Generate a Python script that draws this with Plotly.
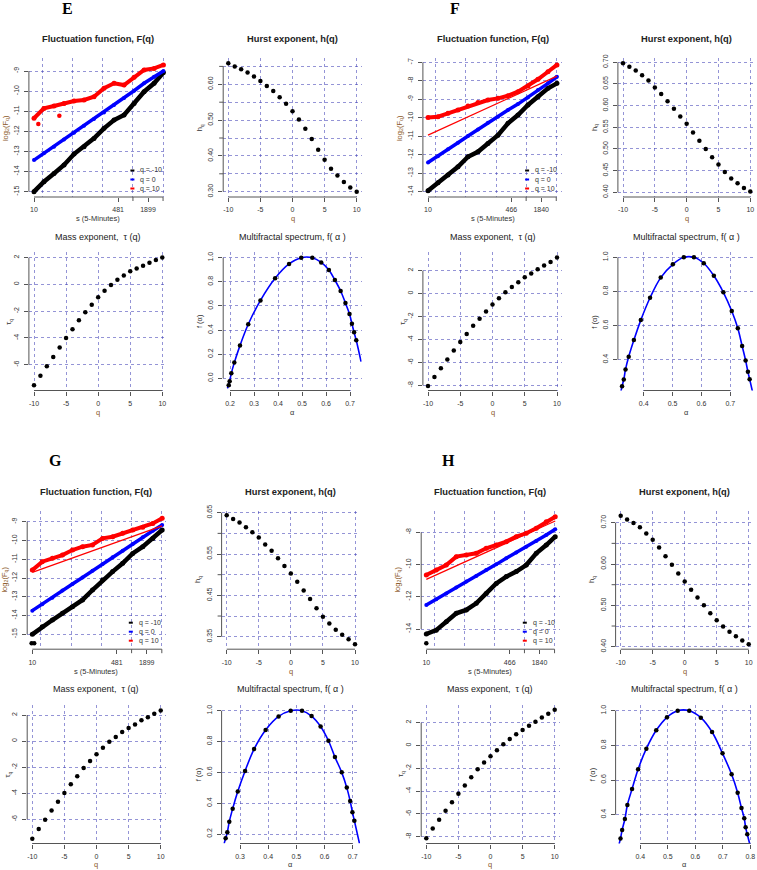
import plotly.graph_objects as go

# ---------------- data ----------------
Q = list(range(-10, 11))

# fluctuation functions: scale s (5-minute units) and log2(Fq)
S_EG = [10, 15.8, 25.1, 39.8, 63.1, 100, 158, 251, 398, 631, 1000, 1585, 2512, 3860]
S_FH = [10, 15.8, 25.1, 39.8, 63.1, 100, 158, 251, 398, 631, 1000, 1585, 2512, 3800]

E_F_neg = [-15.0, -14.50, -14.09, -13.67, -13.13, -12.76, -12.35, -11.85, -11.44, -11.19, -10.61, -10.03, -9.61, -9.08]
E_F_zero = [-13.43, -13.09, -12.76, -12.40, -12.07, -11.72, -11.39, -11.06, -10.69, -10.34, -9.98, -9.61, -9.28, -9.00]
E_F_pos = [-11.35, -10.86, -10.74, -10.61, -10.49, -10.44, -10.28, -9.86, -9.61, -9.70, -9.31, -8.95, -8.87, -8.70]
E_out_s = [12.2, 32.1]
E_out_v = [-11.63, -11.22]

F_F_neg = [-13.95, -13.52, -13.10, -12.65, -12.11, -11.84, -11.39, -10.94, -10.30, -9.85, -9.31, -8.86, -8.41, -8.14]
F_F_zero = [-12.42, -12.08, -11.71, -11.35, -10.99, -10.63, -10.27, -9.94, -9.58, -9.26, -8.90, -8.50, -8.14, -7.78]
F_F_pos = [-9.98, -9.94, -9.76, -9.58, -9.36, -9.18, -9.04, -8.95, -8.81, -8.59, -8.28, -7.92, -7.51, -7.14]
F_fit_s = [10, 3800]
F_fit_pos = [-10.94, -7.75]

G_F_neg = [-15.0, -14.60, -14.24, -13.88, -13.53, -13.17, -12.64, -12.11, -11.66, -11.22, -10.69, -10.33, -9.89, -9.44]
G_F_zero = [-13.74, -13.40, -13.05, -12.67, -12.32, -11.97, -11.61, -11.26, -10.90, -10.55, -10.19, -9.83, -9.48, -9.18]
G_F_pos = [-11.58, -11.13, -10.95, -10.78, -10.51, -10.33, -10.24, -9.89, -9.80, -9.62, -9.44, -9.30, -9.09, -8.82]
G_out_s = [9.7, 10.9]
G_out_v = [-15.48, -15.48]
G_fit_s = [10, 3860]
G_fit_pos = [-11.70, -9.22]

H_F_neg = [-14.31, -14.07, -13.55, -13.03, -12.82, -12.41, -11.79, -11.17, -10.75, -10.44, -10.03, -9.30, -8.79, -8.27]
H_F_zero = [-12.51, -12.16, -11.79, -11.42, -11.06, -10.71, -10.34, -9.99, -9.61, -9.26, -8.89, -8.54, -8.17, -7.81]
H_F_pos = [-10.65, -10.34, -10.03, -9.51, -9.41, -9.30, -8.99, -8.79, -8.58, -8.27, -8.06, -7.75, -7.34, -7.03]
H_out_s = [10]
H_out_v = [-14.89]
H_fit_s = [10, 3800]
H_fit_pos = [-10.92, -7.30]

# Hurst exponents h(q)
E_h = [0.659, 0.650, 0.642, 0.633, 0.622, 0.609, 0.595, 0.581, 0.564, 0.546, 0.525, 0.502, 0.476, 0.447, 0.417, 0.389, 0.364, 0.345, 0.327, 0.312, 0.300]
F_h = [0.698, 0.690, 0.681, 0.670, 0.658, 0.642, 0.627, 0.610, 0.593, 0.575, 0.558, 0.538, 0.519, 0.500, 0.481, 0.464, 0.447, 0.432, 0.421, 0.410, 0.402]
G_h = [0.644, 0.635, 0.626, 0.615, 0.603, 0.590, 0.573, 0.558, 0.540, 0.521, 0.503, 0.483, 0.462, 0.441, 0.419, 0.398, 0.382, 0.367, 0.355, 0.344, 0.332]
H_h = [0.717, 0.708, 0.699, 0.689, 0.674, 0.659, 0.640, 0.619, 0.598, 0.577, 0.558, 0.538, 0.519, 0.500, 0.481, 0.464, 0.449, 0.436, 0.425, 0.415, 0.406]

# mass exponents tau(q)
E_tau = [-7.54, -6.82, -6.12, -5.42, -4.72, -4.00, -3.35, -2.68, -2.08, -1.51, -0.96, -0.47, -0.04, 0.36, 0.66, 0.98, 1.20, 1.40, 1.63, 1.83, 2.02]
F_tau = [-8.06, -7.27, -6.51, -5.75, -4.96, -4.23, -3.53, -2.80, -2.19, -1.55, -0.96, -0.41, 0.12, 0.58, 0.99, 1.43, 1.75, 2.13, 2.45, 2.77, 3.15]
G_tau = [-7.49, -6.75, -6.04, -5.32, -4.65, -3.99, -3.32, -2.69, -2.07, -1.53, -1.02, -0.51, -0.05, 0.31, 0.69, 1.00, 1.28, 1.59, 1.82, 2.10, 2.35]
H_tau = [-8.13, -7.28, -6.52, -5.73, -4.97, -4.24, -3.51, -2.78, -2.08, -1.49, -0.94, -0.41, 0.12, 0.56, 0.99, 1.37, 1.73, 2.08, 2.46, 2.78, 3.13]

# multifractal spectra f(alpha): points and fitted curve
E_alpha = [0.1945, 0.1986, 0.2055, 0.218, 0.2415, 0.276, 0.327, 0.388, 0.446, 0.497, 0.543, 0.580, 0.612, 0.637, 0.661, 0.681, 0.698, 0.708, 0.717, 0.726]
E_f = [-0.058, -0.025, 0.041, 0.130, 0.271, 0.448, 0.646, 0.829, 0.948, 1.0, 1.0, 0.961, 0.898, 0.815, 0.724, 0.624, 0.533, 0.453, 0.381, 0.315]
E_curve_alpha = [0.189] + E_alpha + [0.746]
E_curve_f = [-0.083] + E_f + [0.138]

F_alpha = [0.325, 0.331, 0.337, 0.348, 0.366, 0.390, 0.422, 0.459, 0.501, 0.539, 0.574, 0.608, 0.643, 0.676, 0.705, 0.726, 0.741, 0.753, 0.761, 0.767]
F_f = [0.245, 0.284, 0.343, 0.417, 0.515, 0.632, 0.763, 0.881, 0.959, 1.0, 1.0, 0.965, 0.892, 0.795, 0.685, 0.584, 0.480, 0.396, 0.329, 0.286]
F_curve_alpha = [0.321] + F_alpha + [0.777]
F_curve_f = [0.212] + F_f + [0.212]

G_alpha = [0.249, 0.255, 0.262, 0.274, 0.292, 0.318, 0.350, 0.391, 0.437, 0.480, 0.520, 0.554, 0.586, 0.614, 0.637, 0.661, 0.679, 0.691, 0.699, 0.706]
G_f = [0.172, 0.211, 0.280, 0.364, 0.475, 0.609, 0.751, 0.875, 0.963, 1.0, 1.0, 0.965, 0.898, 0.805, 0.699, 0.600, 0.501, 0.414, 0.341, 0.286]
G_curve_alpha = [0.244] + G_alpha + [0.724]
G_curve_f = [0.139] + G_f + [0.139]

H_alpha = [0.328, 0.334, 0.344, 0.353, 0.370, 0.392, 0.422, 0.458, 0.497, 0.536, 0.578, 0.620, 0.661, 0.699, 0.732, 0.754, 0.768, 0.778, 0.783, 0.789]
H_f = [0.263, 0.312, 0.375, 0.456, 0.548, 0.662, 0.781, 0.887, 0.962, 1.0, 1.0, 0.960, 0.877, 0.754, 0.633, 0.527, 0.438, 0.379, 0.327, 0.287]
H_curve_alpha = [0.323] + H_alpha + [0.798]
H_curve_f = [0.231] + H_f + [0.231]

# tick labels ("" = tick mark without a label)
EG_s_ticks = [10, 481, 950, 1899, 3798]
EG_s_text = ["10", "481", "", "1899", ""]
FH_s_ticks = [10, 466, 920, 1840, 3680]
FH_s_text = ["10", "466", "", "1840", ""]
EG_s_grid = [14.8, 59.3, 237, 950, 3798]
FH_s_grid = [14.4, 57.5, 230, 920, 3680]
Q_ticks = [-10, -5, 0, 5, 10]
LEGEND_LABELS = ["q = -10", "q = 0", "q = 10"]
LEGEND_COLORS = ["#000000", "#0000ff", "#ff0000"]

# ---------------- styling helpers ----------------
W, H = 757, 870
FONT = "Liberation Sans, Arial, sans-serif"
GRIDC = "rgba(60,60,180,0.55)"
AXC = "#555555"
TXT = "#333333"
BROWN = "#8b5a2b"
TICKLEN = 4

fig = go.Figure()
axes = {}
annotations = []
shapes = []
count = [0]


def fx(p):
    return p / W


def fy(p):
    return 1 - p / H


def lin(v1, p1, v2, p2, a):
    return v1 + (a - p1) * (v2 - v1) / (p2 - p1)


def fmt(vals, nd, keep=None):
    return [f"{v:.{nd}f}" if (keep is None or k in keep) else "" for k, v in enumerate(vals)]


def add_panel(box, xcal, ycal, xticks, xtext, yticks, ytext, xgrid, ygrid,
              title, title_y, bold, xtitle, ytitle, xlog=False,
              xtitle_color=TXT, ytitle_color=TXT, xtitle_dy=22, ytitle_dx=23.5):
    count[0] += 1
    i = count[0]
    sx = "" if i == 1 else str(i)
    xr, yr = "x" + sx, "y" + sx
    x0, x1, y0, y1 = box
    (a1, p1), (a2, p2) = xcal
    (b1, q1), (b2, q2) = ycal
    xrange_ = [lin(a1, p1, a2, p2, x0), lin(a1, p1, a2, p2, x1)]
    yrange_ = [lin(b1, q1, b2, q2, y1), lin(b1, q1, b2, q2, y0)]
    xl = [(v, t) for v, t in zip(xticks, xtext) if t != ""]
    yl = [(v, t) for v, t in zip(yticks, ytext) if t != ""]
    common = dict(tickmode="array", ticks="outside", ticklen=TICKLEN, tickwidth=1,
                  tickcolor=AXC, tickfont=dict(size=7, color=TXT, family=FONT),
                  showgrid=False, zeroline=False, showline=False, fixedrange=True)
    axes["xaxis" + sx] = dict(common, domain=[fx(x0), fx(x1)], range=xrange_,
                              anchor=yr, type="log" if xlog else "linear",
                              tickvals=[v for v, _ in xl], ticktext=[t for _, t in xl],
                              tickangle=0, ticklabelstandoff=2,
                              minor=dict(tickmode="array", tickvals=xgrid, showgrid=True,
                                         gridcolor=GRIDC, griddash="dot", gridwidth=1,
                                         ticks=""))
    axes["yaxis" + sx] = dict(common, domain=[fy(y1), fy(y0)], range=yrange_,
                              anchor=xr, tickvals=[v for v, _ in yl], ticktext=[t for _, t in yl],
                              tickangle=-90, ticklabelstandoff=2,
                              minor=dict(tickmode="array", tickvals=ygrid, showgrid=True,
                                         gridcolor=GRIDC, griddash="dot", gridwidth=1,
                                         ticks=""))
    # axis lines only between extreme ticks (R style)
    shapes.append(dict(type="line", xref=xr + " domain", yref=yr, x0=0, x1=0,
                       y0=yticks[0], y1=yticks[-1], line=dict(color=AXC, width=1)))
    shapes.append(dict(type="line", xref=xr, yref=yr + " domain", y0=0, y1=0,
                       x0=xticks[0], x1=xticks[-1], line=dict(color=AXC, width=1)))
    # unlabeled tick marks
    for v, t in zip(xticks, xtext):
        if t == "":
            shapes.append(dict(type="line", xref=xr, yref=yr + " domain", x0=v, x1=v,
                               y0=0, y1=-TICKLEN / (y1 - y0), line=dict(color=AXC, width=1)))
    for v, t in zip(yticks, ytext):
        if t == "":
            shapes.append(dict(type="line", xref=xr + " domain", yref=yr, y0=v, y1=v,
                               x0=0, x1=-TICKLEN / (x1 - x0), line=dict(color=AXC, width=1)))
    cx = (x0 + x1) / 2
    ttl = f"<b>{title}</b>" if bold else title
    annotations.append(dict(text=ttl, x=fx(cx), y=fy(title_y), xref="paper", yref="paper",
                            showarrow=False, xanchor="center", yanchor="middle",
                            font=dict(size=9.3 if bold else 9, color="#222222", family=FONT)))
    annotations.append(dict(text=xtitle, x=fx(cx), y=fy(y1 + xtitle_dy), xref="paper", yref="paper",
                            showarrow=False, xanchor="center", yanchor="middle",
                            font=dict(size=7.5, color=xtitle_color, family=FONT)))
    annotations.append(dict(text=ytitle, x=fx(x0 - ytitle_dx), y=fy((y0 + y1) / 2), xref="paper",
                            yref="paper", showarrow=False, xanchor="center", yanchor="middle",
                            textangle=-90,
                            font=dict(size=7.5, color=ytitle_color, family=FONT)))
    return xr, yr


def add_legend(box):
    x0, x1, y0, y1 = box
    for k, (lab, col) in enumerate(zip(LEGEND_LABELS, LEGEND_COLORS)):
        yy = y1 - 26.5 + 9 * k
        shapes.append(dict(type="line", xref="paper", yref="paper",
                           x0=fx(x1 - 37), x1=fx(x1 - 33), y0=fy(yy), y1=fy(yy),
                           line=dict(color=col, width=2)))
        annotations.append(dict(text=lab, x=fx(x1 - 29), y=fy(yy), xref="paper", yref="paper",
                                showarrow=False, xanchor="left", yanchor="middle",
                                font=dict(size=7, color=TXT, family=FONT)))


def scat(xr, yr, x, y, color, mode="markers", size=4.5, width=1.5, shape="linear"):
    fig.add_trace(go.Scatter(x=x, y=y, xaxis=xr, yaxis=yr, mode=mode,
                             marker=dict(size=size, color=color),
                             line=dict(color=color, width=width, shape=shape),
                             showlegend=False, hoverinfo="skip"))


def fluct_series(xr, yr, s, neg, zero, pos):
    scat(xr, yr, s, neg, "#000000", mode="lines+markers", size=5, width=4.5)
    scat(xr, yr, s, zero, "#0000ff", mode="lines+markers", size=4, width=3.5)
    scat(xr, yr, s, pos, "#ff0000", mode="lines+markers", size=5, width=4)


def spectrum(xr, yr, ca, cf, a, f):
    scat(xr, yr, ca, cf, "#0000ff", mode="lines", width=1.6, shape="spline")
    scat(xr, yr, a, f, "#000000", size=4.5)


ROW_T = [(58.3, 197.0, 39.0), (252.2, 390.5, 236.7), (510.5, 649.2, 491.7), (705.0, 843.5, 689.0)]
LOGF = "log<sub>2</sub>(F<sub>q</sub>)"
HURST_T = "Hurst exponent, h(q)"
FLUCT_T = "Fluctuation function, F(q)"
MASS_T = "Mass exponent,  \u03c4 (q)"
SPEC_T = "Multifractal spectrum, f( \u03b1 )"
XS = "s (5-Minutes)"
TAUQ = "\u03c4<sub>q</sub>"

# ================= group E =================
r1, r2 = ROW_T[0], ROW_T[1]
box = (28.9, 167.4, r1[0], r1[1])
xr, yr = add_panel(box, [(1, 34.0), (3.2785, 148.0)], [(-9, 71.0), (-15, 191.7)],
                   EG_s_ticks, EG_s_text, list(range(-15, -8)), [str(v) for v in range(-15, -8)],
                   EG_s_grid, list(range(-15, -8)), FLUCT_T, r1[2], True, XS, LOGF,
                   xlog=True, ytitle_color=BROWN)
fluct_series(xr, yr, S_EG, E_F_neg, E_F_zero, E_F_pos)
scat(xr, yr, E_out_s, E_out_v, "#ff0000", size=4.5)
add_legend(box)

hv = [0.30, 0.35, 0.40, 0.45, 0.50, 0.55, 0.60, 0.65]
xr, yr = add_panel((223.2, 361.8, r1[0], r1[1]), [(-10, 228.3), (10, 356.7)], [(0.60, 84.3), (0.30, 191.7)],
                   Q_ticks, [str(v) for v in Q_ticks], hv, fmt(hv, 2, keep={0, 2, 4, 6}),
                   Q_ticks, hv, HURST_T, r1[2], True, "q", "h<sub>q</sub>", xtitle_color=BROWN)
scat(xr, yr, Q, E_h, "#000000")

mv = [-6, -4, -2, 0, 2]
xr, yr = add_panel((28.9, 167.4, r2[0], r2[1]), [(-10, 34.0), (10, 162.3)], [(2, 257.7), (-6, 364.7)],
                   Q_ticks, [str(v) for v in Q_ticks], mv, [str(v) for v in mv],
                   Q_ticks, mv, MASS_T, r2[2], False, "q", TAUQ, xtitle_color=BROWN, ytitle_dx=19.5)
scat(xr, yr, Q, E_tau, "#000000")

av = [0.2, 0.3, 0.4, 0.5, 0.6, 0.7]
fv = [0.0, 0.2, 0.4, 0.6, 0.8, 1.0]
xr, yr = add_panel((223.2, 361.8, r2[0], r2[1]), [(0.2, 230.0), (0.7, 350.0)], [(1.0, 257.7), (0.0, 378.3)],
                   av, fmt(av, 1), fv, fmt(fv, 1), av, fv, SPEC_T, r2[2], False, "\u03b1", "f (\u03b1)")
spectrum(xr, yr, E_curve_alpha, E_curve_f, E_alpha, E_f)

# ================= group F =================
box = (422.9, 562.1, r1[0], r1[1])
xr, yr = add_panel(box, [(1, 428.0), (3.2648, 541.2)], [(-7, 62.3), (-14, 191.7)],
                   FH_s_ticks, FH_s_text, list(range(-14, -6)), [str(v) for v in range(-14, -6)],
                   FH_s_grid, list(range(-14, -6)), FLUCT_T, r1[2], True, XS, LOGF,
                   xlog=True, ytitle_color=BROWN)
fluct_series(xr, yr, S_FH, F_F_neg, F_F_zero, F_F_pos)
scat(xr, yr, F_fit_s, F_fit_pos, "#ff0000", mode="lines", width=1.2)
add_legend(box)

hv = [0.40, 0.45, 0.50, 0.55, 0.60, 0.65, 0.70]
xr, yr = add_panel((617.9, 755.4, r1[0], r1[1]), [(-10, 623.0), (10, 750.3)], [(0.70, 62.3), (0.40, 192.3)],
                   Q_ticks, [str(v) for v in Q_ticks], hv, fmt(hv, 2),
                   Q_ticks, hv, HURST_T, r1[2], True, "q", "h<sub>q</sub>", xtitle_color=BROWN)
scat(xr, yr, Q, F_h, "#000000")

mv = [-8, -6, -4, -2, 0, 2]
xr, yr = add_panel((422.9, 562.1, r2[0], r2[1]), [(-10, 428.0), (10, 557.0)], [(2, 270.7), (-8, 385.3)],
                   Q_ticks, [str(v) for v in Q_ticks], mv, [str(v) for v in mv],
                   Q_ticks, mv, MASS_T, r2[2], False, "q", TAUQ, xtitle_color=BROWN, ytitle_dx=19.5)
scat(xr, yr, Q, F_tau, "#000000")

av = [0.4, 0.5, 0.6, 0.7]
fv = [0.4, 0.6, 0.8, 1.0]
xr, yr = add_panel((617.9, 755.4, r2[0], r2[1]), [(0.4, 643.7), (0.7, 730.3)], [(1.0, 257.3), (0.4, 359.7)],
                   av, fmt(av, 1), fv, fmt(fv, 1), av, fv, SPEC_T, r2[2], False, "\u03b1", "f (\u03b1)")
spectrum(xr, yr, F_curve_alpha, F_curve_f, F_alpha, F_f)

# ================= group G =================
r3, r4 = ROW_T[2], ROW_T[3]
box = (27.2, 165.8, r3[0], r3[1])
xr, yr = add_panel(box, [(1, 32.3), (3.2785, 146.7)], [(-9, 521.7), (-15, 634.3)],
                   EG_s_ticks, EG_s_text, list(range(-15, -8)), [str(v) for v in range(-15, -8)],
                   EG_s_grid, list(range(-15, -8)), FLUCT_T, r3[2], True, XS, LOGF,
                   xlog=True, ytitle_color=BROWN, ytitle_dx=22.5)
fluct_series(xr, yr, S_EG, G_F_neg, G_F_zero, G_F_pos)
scat(xr, yr, G_fit_s, G_fit_pos, "#ff0000", mode="lines", width=1.2)
scat(xr, yr, G_out_s, G_out_v, "#000000", size=4.5)
add_legend(box)

hv = [0.35, 0.40, 0.45, 0.50, 0.55, 0.60, 0.65]
xr, yr = add_panel((221.6, 360.1, r3[0], r3[1]), [(-10, 226.7), (10, 355.0)], [(0.65, 512.7), (0.35, 636.7)],
                   Q_ticks, [str(v) for v in Q_ticks], hv, fmt(hv, 2, keep={0, 2, 4, 6}),
                   Q_ticks, hv, HURST_T, r3[2], True, "q", "h<sub>q</sub>", xtitle_color=BROWN)
scat(xr, yr, Q, G_h, "#000000")

mv = [-6, -4, -2, 0, 2]
xr, yr = add_panel((27.2, 165.8, r4[0], r4[1]), [(-10, 32.3), (10, 160.7)], [(2, 715.0), (-6, 819.3)],
                   Q_ticks, [str(v) for v in Q_ticks], mv, [str(v) for v in mv],
                   Q_ticks, mv, MASS_T, r4[2], False, "q", TAUQ, xtitle_color=BROWN,
                   xtitle_dy=20.5, ytitle_dx=19.0)
scat(xr, yr, Q, G_tau, "#000000")

av = [0.3, 0.4, 0.5, 0.6, 0.7]
fv = [0.2, 0.4, 0.6, 0.8, 1.0]
xr, yr = add_panel((221.6, 360.1, r4[0], r4[1]), [(0.3, 240.0), (0.7, 352.7)], [(1.0, 710.7), (0.2, 834.0)],
                   av, fmt(av, 1), fv, fmt(fv, 1), av, fv, SPEC_T, r4[2], False, "\u03b1", "f (\u03b1)",
                   xtitle_dy=20.5)
spectrum(xr, yr, G_curve_alpha, G_curve_f, G_alpha, G_f)

# ================= group H =================
box = (421.2, 559.8, r3[0], r3[1])
yv = [-14, -12, -10, -8]
xr, yr = add_panel(box, [(1, 426.3), (3.2648, 539.5)], [(-8, 532.3), (-14, 629.0)],
                   FH_s_ticks, FH_s_text, yv, [str(v) for v in yv],
                   FH_s_grid, yv, FLUCT_T, r3[2], True, XS, LOGF,
                   xlog=True, ytitle_color=BROWN)
fluct_series(xr, yr, S_FH, H_F_neg, H_F_zero, H_F_pos)
scat(xr, yr, H_fit_s, H_fit_pos, "#ff0000", mode="lines", width=1.2)
scat(xr, yr, H_out_s, H_out_v, "#000000", size=4.5)
add_legend(box)

hv = [0.40, 0.45, 0.50, 0.55, 0.60, 0.65, 0.70]
xr, yr = add_panel((615.6, 753.8, r3[0], r3[1]), [(-10, 620.7), (10, 748.7)], [(0.70, 522.7), (0.40, 646.7)],
                   Q_ticks, [str(v) for v in Q_ticks], hv, fmt(hv, 2, keep={0, 2, 4, 6}),
                   Q_ticks, hv, HURST_T, r3[2], True, "q", "h<sub>q</sub>", xtitle_color=BROWN)
scat(xr, yr, Q, H_h, "#000000")

mv = [-8, -6, -4, -2, 0, 2]
xr, yr = add_panel((421.2, 559.8, r4[0], r4[1]), [(-10, 426.3), (10, 554.7)], [(2, 722.7), (-8, 836.7)],
                   Q_ticks, [str(v) for v in Q_ticks], mv, [str(v) for v in mv],
                   Q_ticks, mv, MASS_T, r4[2], False, "q", TAUQ, xtitle_color=BROWN,
                   xtitle_dy=20.5, ytitle_dx=19.5)
scat(xr, yr, Q, H_tau, "#000000")

av = [0.4, 0.5, 0.6, 0.7, 0.8]
fv = [0.4, 0.6, 0.8, 1.0]
xr, yr = add_panel((615.6, 753.8, r4[0], r4[1]), [(0.4, 640.3), (0.8, 750.3)], [(1.0, 710.7), (0.4, 814.7)],
                   av, fmt(av, 1), fv, fmt(fv, 1), av, fv, SPEC_T, r4[2], False, "\u03b1", "f (\u03b1)",
                   xtitle_dy=20.5)
spectrum(xr, yr, H_curve_alpha, H_curve_f, H_alpha, H_f)

# panel letters
for lab, (lx, ly) in zip(["E", "F", "G", "H"], [(67.3, 8.3), (454.7, 8.3), (55.0, 460.7), (448.3, 460.7)]):
    annotations.append(dict(text=f"<b>{lab}</b>", x=fx(lx), y=fy(ly), xref="paper", yref="paper",
                            showarrow=False, xanchor="center", yanchor="middle",
                            font=dict(size=16, color="#000000", family="Liberation Serif, Times New Roman, serif")))

fig.update_layout(width=W, height=H, autosize=False,
                  margin=dict(l=0, r=0, t=0, b=0, pad=0, autoexpand=False),
                  paper_bgcolor="white", plot_bgcolor="white",
                  showlegend=False, annotations=annotations, shapes=shapes,
                  font=dict(family=FONT), **axes)

fig.write_html("out.html", config={"displayModeBar": False},
               post_script="document.body.style.margin='0px';document.body.style.overflow='hidden';")
